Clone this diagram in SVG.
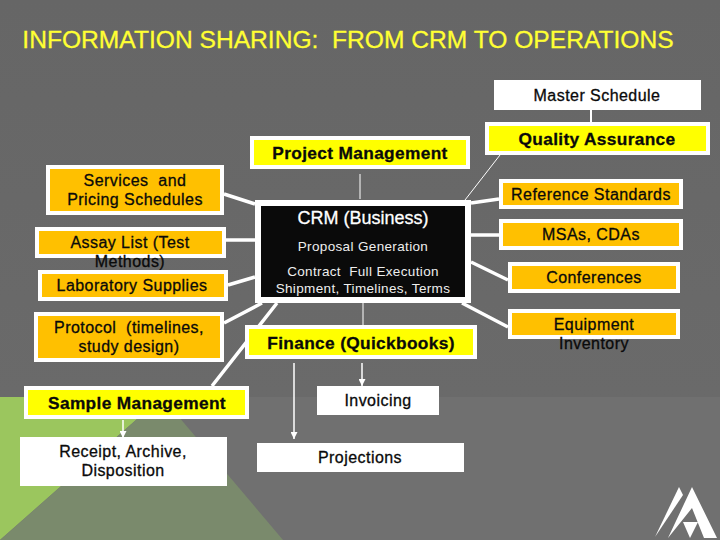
<svg xmlns="http://www.w3.org/2000/svg" width="720" height="540" viewBox="0 0 720 540">
<style>
text{font-family:"Liberation Sans",Arial,sans-serif;text-anchor:middle;font-size:16px;fill:#0a0a0a;stroke:#0a0a0a;stroke-width:.3px;letter-spacing:.45px}
.b{font-weight:bold;font-size:17.300px;letter-spacing:.35px}
.o{fill:#FFC000;stroke:#fff;stroke-width:4}
.y{fill:#FFFF00;stroke:#fff;stroke-width:4}
.w{fill:#fff}
.c{stroke:#fff;fill:none}
.t{stroke-width:3.500}
.n{stroke-width:1}
.l{fill:#eee;stroke:none;font-size:13.500px;letter-spacing:.35px}
</style>
<defs>
<marker id="a" markerUnits="userSpaceOnUse" markerWidth="8" markerHeight="7" refX="7" refY="3.500" orient="auto"><path d="M0 0L7 3.500L0 7Z" fill="#fff"/></marker>
<linearGradient id="bg" x1="0" y1="0" x2="0" y2="1"><stop offset="0" stop-color="#666"/><stop offset="1" stop-color="#6a6a6a"/></linearGradient>
</defs>
<rect width="720" height="397" fill="url(#bg)"/>
<rect y="397" width="720" height="143" fill="#707070"/>
<polygon points="0,397 162,397 0,540" fill="#9BC65E"/>
<polygon points="162,397 283,540 0,540" fill="#7A8A6C"/>
<g id="logo" fill="#fff"><polygon points="679,487 683,495 655,537"/><polygon points="692,487 717,538 704,538 692,508 668,538"/><polygon points="683,522 698,522 690,538"/></g>
<text id="title" x="348" y="47.500" style="font-size:24.600px;fill:#FFFF33;stroke:#FFFF33;letter-spacing:0" xml:space="preserve">INFORMATION SHARING:  FROM CRM TO OPERATIONS</text>
<g id="connectors">
<path class="c t" d="M224 194L255 204M226 240H255M228 285L255 277M224 323L262 303M212 386L277 303M471 203L499 199M471 235H499M471 262L508 280M462 303L508 327"/>
<path class="c n" d="M360 174V199M500 155L465 200M363 290V325"/>
<path class="c" stroke-width="2" d="M591 110V122"/>
<path class="c" stroke-width="1.500" marker-end="url(#a)" d="M362 363V386"/>
<path class="c" stroke-width="1.500" marker-end="url(#a)" d="M294 363V439"/>
<path class="c" stroke-width="1.500" marker-end="url(#a)" d="M123 420V438"/>
</g>
<g id="master-schedule"><rect class="w" x="494" y="80" width="207" height="30"/><text x="597" y="100.500">Master Schedule</text></g>
<g id="quality-assurance"><rect class="y" x="487" y="124" width="221" height="29"/><text class="b" x="597" y="144.500">Quality Assurance</text></g>
<g id="project-management"><rect class="y" x="252" y="138" width="216" height="29"/><text class="b" x="360" y="158.500">Project Management</text></g>
<g id="crm"><rect x="258" y="203" width="210" height="97" fill="#0a0a0a" stroke="#fff" stroke-width="6"/>
<text x="363" y="223.500" style="fill:#fff;stroke:#fff;font-size:18px;letter-spacing:0">CRM (Business)</text>
<text class="l" x="363" y="250.500">Proposal Generation</text>
<text class="l" x="363" y="275.500" xml:space="preserve">Contract  Full Execution</text>
<text class="l" x="363" y="293">Shipment, Timelines, Terms</text></g>
<g id="services"><rect class="o" x="48" y="167" width="174" height="46"/><text x="135" y="186" xml:space="preserve">Services  and</text><text x="135" y="204.500">Pricing Schedules</text></g>
<g id="assay-list"><rect class="o" x="37" y="229" width="187" height="27"/><text x="130" y="248">Assay List (Test</text><text x="130" y="267">Methods)</text></g>
<g id="lab-supplies"><rect class="o" x="40" y="272" width="186" height="27"/><text x="132" y="290.500">Laboratory Supplies</text></g>
<g id="protocol"><rect class="o" x="36" y="314" width="186" height="46"/><text x="129" y="333" xml:space="preserve">Protocol  (timelines,</text><text x="129" y="352">study design)</text></g>
<g id="finance"><rect class="y" x="247" y="327" width="228" height="30"/><text class="b" x="361" y="348.500">Finance (Quickbooks)</text></g>
<g id="sample-management"><rect class="y" x="26" y="388" width="221" height="29"/><text class="b" x="137" y="408.500">Sample Management</text></g>
<g id="receipt"><rect class="w" x="20" y="437" width="207" height="49"/><text x="123" y="456.500">Receipt, Archive,</text><text x="123" y="475.500">Disposition</text></g>
<g id="invoicing"><rect class="w" x="317" y="386" width="122" height="29"/><text x="378" y="405.500">Invoicing</text></g>
<g id="projections"><rect class="w" x="257" y="443" width="207" height="29"/><text x="360" y="462.500">Projections</text></g>
<g id="reference-standards"><rect class="o" x="501" y="181" width="180" height="26"/><text x="591" y="199.500">Reference Standards</text></g>
<g id="msas"><rect class="o" x="501" y="221" width="180" height="27"/><text x="591" y="239.500">MSAs, CDAs</text></g>
<g id="conferences"><rect class="o" x="510" y="264" width="168" height="27"/><text x="594" y="282.500">Conferences</text></g>
<g id="equipment"><rect class="o" x="510" y="311" width="168" height="26"/><text x="594" y="329.500">Equipment</text><text x="594" y="348.500">Inventory</text></g>
</svg>
